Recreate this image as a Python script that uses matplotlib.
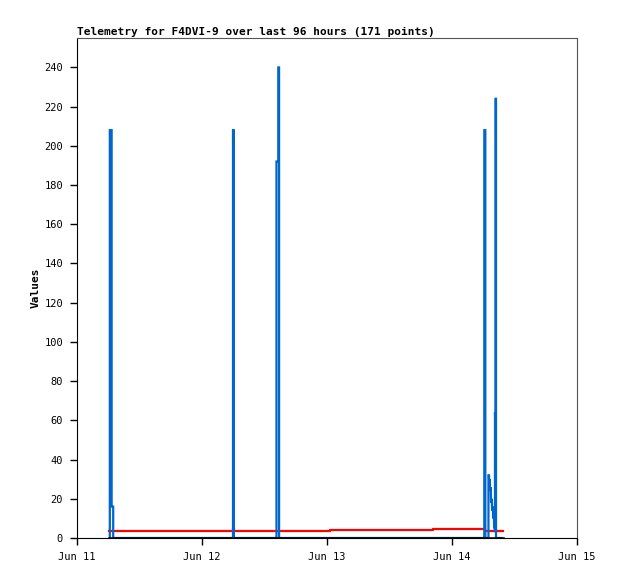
import matplotlib
matplotlib.use("Agg")
import matplotlib.pyplot as plt

# hours since Jun 11 00:00
blue_t = [6.2, 6.3, 6.3, 6.65, 6.65, 6.95, 6.95,
          29.9, 29.95, 29.95, 30.1, 30.1,
          38.2, 38.3, 38.3, 38.6, 38.65, 38.65, 38.8, 38.8,
          78.0, 78.2, 78.2, 78.4, 78.4, 78.9, 79.0, 79.0, 79.1, 79.15, 79.25, 79.3,
          79.45, 79.5, 79.65, 79.7, 79.85, 79.9, 80.05, 80.1, 80.2,
          80.25, 80.25, 80.3, 80.35, 80.35, 80.45, 80.45, 81.7]
blue_v = [0, 0, 208, 208, 16, 16, 0,
          0, 0, 208, 208, 0,
          0, 0, 192, 192, 192, 240, 240, 0,
          0, 0, 208, 208, 0, 0, 0, 32, 32, 28, 30, 24,
          26, 18, 20, 14, 16, 10, 12, 5, 6,
          3, 64, 60, 10, 224, 224, 0, 0]

red_t = [6.1, 30.0, 30.2, 48.6, 68.3, 78.3, 81.7]
red_v = [3.8, 5.0, 3.8, 4.3, 4.8, 3.8, 3.8]

black_t = [6.1, 81.7]
black_v = [0, 0]

xtick_pos = [0, 24, 48, 72, 96]
xtick_labels = ["Jun 11", "Jun 12", "Jun 13", "Jun 14", "Jun 15"]
ytick_pos = list(range(0, 241, 20))

mono = "DejaVu Sans Mono"

fig = plt.figure(figsize=(6.18, 5.79), dpi=100)
ax = fig.add_axes([77 / 618, 41 / 579, 500 / 618, 500 / 579])

ax.plot(red_t, red_v, color="#ff0000", lw=1.6, drawstyle="steps-post")
ax.plot(blue_t, blue_v, color="#0066cc", lw=1.6,
        solid_joinstyle="miter", solid_capstyle="butt")
ax.plot(black_t, black_v, color="black", lw=1.8)

ax.set_xlim(0, 96)
ax.set_ylim(0, 255)
ax.set_xticks(xtick_pos)
ax.set_xticklabels(xtick_labels, fontfamily=mono, fontsize=7.5)
ax.set_yticks(ytick_pos)
ax.set_yticklabels([str(v) for v in ytick_pos], fontfamily=mono, fontsize=7.5)
ax.tick_params(direction="out", length=5, width=1, pad=5)

for s in ["top", "right"]:
    ax.spines[s].set_color("#555555")
for s in ["left", "bottom"]:
    ax.spines[s].set_color("black")

ax.set_ylabel("Values", fontfamily=mono, fontsize=8, fontweight="bold", labelpad=3)
ax.set_title("Telemetry for F4DVI-9 over last 96 hours (171 points)",
             fontfamily=mono, fontsize=8, fontweight="bold", loc="left", pad=2)

fig.savefig("out.png", dpi=100)
